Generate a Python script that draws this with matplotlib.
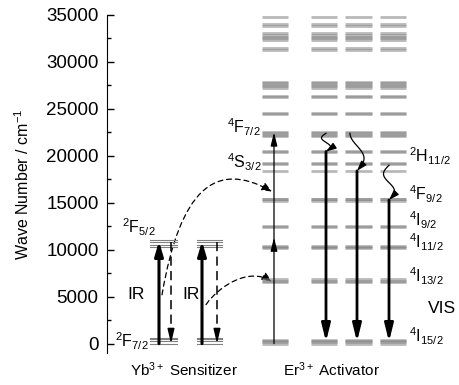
import numpy as np
import matplotlib
matplotlib.use("Agg")
import matplotlib.pyplot as plt
from matplotlib.path import Path
from matplotlib.patches import FancyArrowPatch

plt.rcParams['font.family'] = ['Liberation Sans', 'DejaVu Sans']
plt.rcParams['mathtext.fontset'] = 'custom'
plt.rcParams['mathtext.rm'] = 'Liberation Sans'
plt.rcParams['mathtext.it'] = 'Liberation Sans:italic'
plt.rcParams['mathtext.bf'] = 'Liberation Sans:bold'

# energy levels (cm^-1), Stark sublevels
yb_f72 = [0, 250, 450, 620]
yb_f52 = [10250, 10500, 10800, 11050]

er_manifolds = [
    [0, 150, 300, 400],                 # 4I15/2
    [6550, 6700, 6850],                 # 4I13/2
    [10150, 10300, 10400],              # 4I11/2
    [12400, 12550],                     # 4I9/2
    [15200, 15350, 15450],              # 4F9/2
    [18400],                            # 4S3/2
    [19150, 19250],                     # 2H11/2
    [20400, 20500],                     # 4F7/2
    [22100, 22250, 22400, 22550],       # 4F5/2, 4F3/2
    [24450, 24600],
    [26250, 26400],
    [27200, 27400, 27550, 27750, 27900],
    [31300, 31500],
    [32350],
    [32550, 32700, 32900, 33050],
    [33800, 34000],
    [34800],
]

# transitions
yb_pump_top = 10900
yb_decay_top = 10800
er_exc_steps = [(0, 11300), (10300, 22500)]
er_emit_from = [20460, 18400, 15300]
er_emit_to = 200
er_relax_from = [22400, 22400, 19000]
et_src = [5200, 4150]
et_dst = [16200, 6600]

# column layout (x in axis units)
yb_cols = [(43, 70), (90, 115)]
er_cols = [(155, 181), (204, 230), (238, 265), (273, 299)]
yb_up_x = [52, 95]
yb_down_x = [64, 110]
er_exc_x = 167
er_emit_x = [219, 250, 282]

fig = plt.figure(figsize=(4.6, 3.85), dpi=100)
ax = fig.add_axes([107 / 460, 1 - 353 / 385, 353 / 460, (353 - 15) / 385])
ax.set_xlim(0, 353)
ax.set_ylim(-1000, 35000)

lev_kw = dict(color='#808080', lw=2.0, alpha=0.55, solid_capstyle='butt')
for x0, x1 in er_cols:
    for m in er_manifolds:
        for e in m:
            ax.plot([x0, x1], [e, e], **lev_kw)
for x0, x1 in yb_cols:
    for e in yb_f72 + yb_f52:
        ax.plot([x0, x1], [e, e], color='#808080', lw=0.8)


def arrow(x, y0, y1, lw, hl, hw, ls='-'):
    ax.annotate('', xy=(x, y1), xytext=(x, y0),
                arrowprops=dict(arrowstyle='-|>,head_length=%g,head_width=%g' % (hl, hw),
                                lw=lw, color='k', ls=ls, shrinkA=0, shrinkB=0))


# Yb absorption / decay
for i in range(2):
    arrow(yb_up_x[i], 0, yb_pump_top, 2.2, 0.85, 0.25)
    ax.plot([yb_down_x[i]] * 2, [yb_decay_top, 900], color='k', lw=1.1,
            dashes=(6, 3.5))
    arrow(yb_down_x[i], 1200, 0, 1.1, 0.85, 0.2)

# Er excitation steps
for y0, y1 in er_exc_steps:
    arrow(er_exc_x, y0, y1, 0.9, 0.8, 0.2)

# Er emissions
for x, e in zip(er_emit_x, er_emit_from):
    arrow(x, e, er_emit_to, 2.0, 1.05, 0.26)

# nonradiative relaxation (wiggles)
amps = [-4.5, 7, -5.5]
for k, (x, e0, e1) in enumerate(zip(er_emit_x, er_relax_from, er_emit_from)):
    t = np.linspace(0, 1, 60)
    if k == 1:
        xs = x + amps[k] * np.sin(1.5 * np.pi * t - np.pi / 2)
    else:
        xs = x + amps[k] * np.sin(2 * np.pi * t)
    ys = e0 + (e1 - e0) * t
    ax.plot(xs[:-4], ys[:-4], color='k', lw=0.9)
    ax.annotate('', xy=(xs[-1], ys[-1]), xytext=(xs[-5], ys[-5]),
                arrowprops=dict(arrowstyle='-|>,head_length=0.6,head_width=0.2',
                                lw=0.9, color='k', shrinkA=0, shrinkB=0))

# energy transfer (dashed curves)
et_paths = [
    [(55, et_src[0]), (73, 16400), (108, 19600), (165, et_dst[0])],
    [(99, et_src[1]), (113, 6300), (143, 8100), (165, et_dst[1])],
]
for pts in et_paths:
    p = Path(pts, [Path.MOVETO, Path.CURVE4, Path.CURVE4, Path.CURVE4])
    ax.add_patch(FancyArrowPatch(path=p, arrowstyle='-|>,head_length=6,head_width=2.5',
                                 lw=0.9, color='k', ls=(0, (4, 3)), shrinkA=0, shrinkB=0))

# labels
lab = dict(fontsize=11.5, ha='left', va='baseline')
ax.text(15, 11800, '$^2$F$_{5/2}$', **lab)
ax.text(8, -430, '$^2$F$_{7/2}$', **lab)
ax.text(120, 22450, '$^4$F$_{7/2}$', **lab)
ax.text(120, 18700, '$^4$S$_{3/2}$', **lab)
ax.text(302, 19360, '$^2$H$_{11/2}$', **lab)
ax.text(302, 15300, '$^4$F$_{9/2}$', **lab)
ax.text(302, 12450, '$^4$I$_{9/2}$', **lab)
ax.text(302, 10200, '$^4$I$_{11/2}$', **lab)
ax.text(302, 6500, '$^4$I$_{13/2}$', **lab)
ax.text(302, 100, '$^4$I$_{15/2}$', **lab)
ax.text(20, 4800, 'IR', fontsize=12.5, ha='left', va='baseline')
ax.text(75, 4800, 'IR', fontsize=12.5, ha='left', va='baseline')
ax.text(321, 3300, 'VIS', fontsize=12.5, ha='left', va='baseline')
ax.text(76.5, -3480, 'Yb$^{3+}$ Sensitizer', fontsize=11, ha='center', va='baseline')
ax.text(224, -3480, 'Er$^{3+}$ Activator', fontsize=11, ha='center', va='baseline')

for s in ['top', 'right', 'bottom']:
    ax.spines[s].set_visible(False)
ax.set_xticks([])
ax.set_yticks(np.arange(0, 35001, 5000))
ax.set_yticks(np.arange(2500, 35000, 5000), minor=True)
ax.tick_params(axis='y', which='major', direction='in', length=5, width=1, labelsize=13.5, pad=6)
ax.tick_params(axis='y', which='minor', direction='in', length=3, width=1)
ax.set_ylabel('Wave Number / cm$^{-1}$', fontsize=11.5, labelpad=10)

fig.savefig('out.png', dpi=100)
